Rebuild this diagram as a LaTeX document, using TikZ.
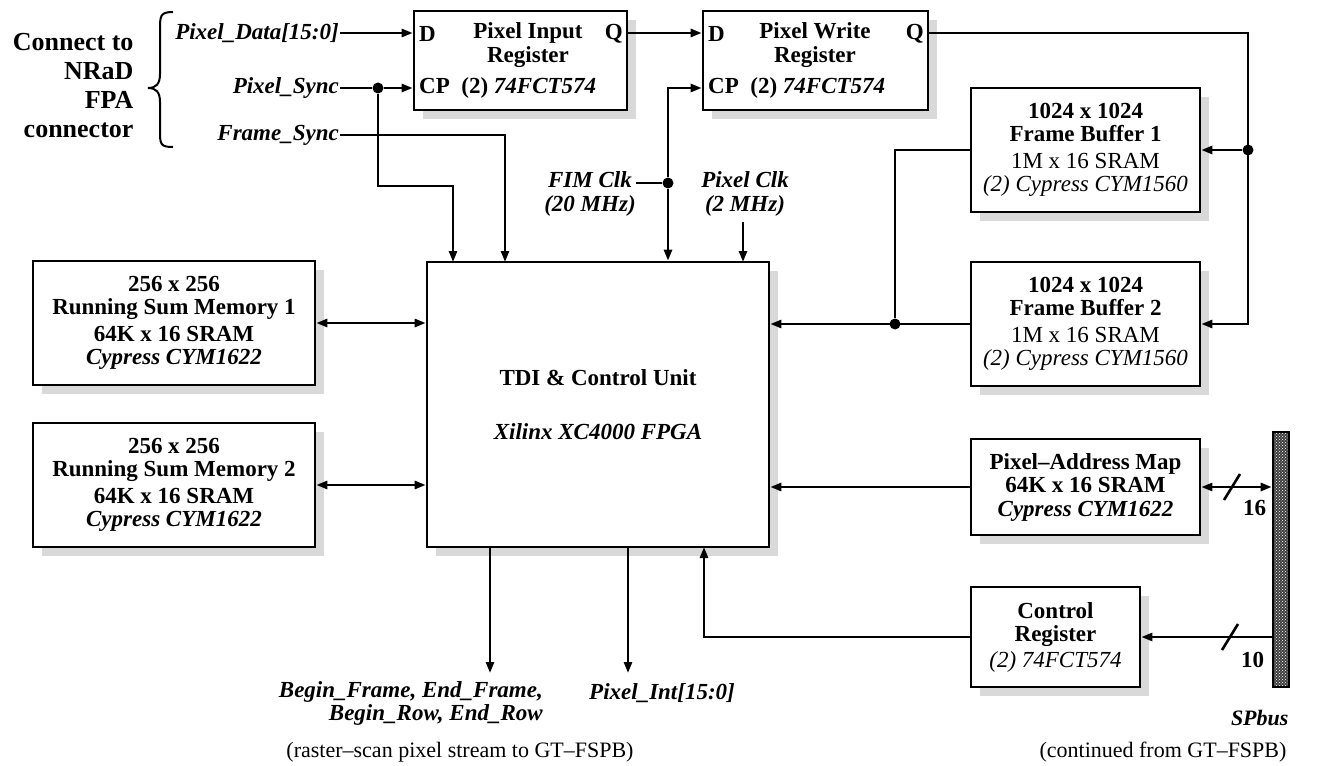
\documentclass[tikz,border=0pt]{standalone}
\usepackage{fontspec}
\setmainfont{Liberation Serif}
\usetikzlibrary{arrows.meta,shadows,patterns}
\newcommand\bxf{\fontsize{23}{23.5}\selectfont}
\newcommand\bigf{\fontsize{26}{29}\selectfont}
\newcommand\capf{\fontsize{22}{24}\selectfont}
\begin{document}
\begin{tikzpicture}[x=1pt,y=-1pt,
  ln/.style={line width=2.6pt},
  arr/.style={ln,-{Triangle[length=11pt,width=8pt]}},
  biarr/.style={ln,{Triangle[length=11pt,width=8pt]}-{Triangle[length=11pt,width=8pt]}},
  box/.style={draw,line width=2.6pt,fill=white,inner sep=2pt,align=center,font=\bxf\bfseries,
    general shadow={fill=black!15,shadow xshift=9pt,shadow yshift=-9pt}},
  jdot/.style={circle,fill,inner sep=0pt,minimum size=11pt},
  lbl/.style={font=\bxf\bfseries\itshape,inner sep=1pt},
  txt/.style={font=\bxf\bfseries,inner sep=1pt},
  busbar/.style={draw,line width=2.6pt,preaction={fill=black!75},pattern=crosshatch dots,pattern color=white,inner sep=0pt}]
\useasboundingbox (0,0) rectangle (1324,765);

% ---------- boxes ----------
\node[box,minimum width=213pt,minimum height=99pt] (pir) at (520.5,60.5) {};
\node[box,minimum width=225pt,minimum height=99pt] (pwr) at (815.5,60.5) {};
\node[box,minimum width=229pt,minimum height=124pt] (fb1) at (1085.5,150)
  {1024 x 1024\\Frame Buffer 1\\[3pt]{\mdseries 1M x 16 SRAM}\\{\mdseries\itshape (2) Cypress CYM1560}};
\node[box,minimum width=229pt,minimum height=124pt] (fb2) at (1085.5,324)
  {1024 x 1024\\Frame Buffer 2\\[3pt]{\mdseries 1M x 16 SRAM}\\{\mdseries\itshape (2) Cypress CYM1560}};
\node[box,minimum width=342pt,minimum height=285pt] (tdi) at (598,404.5)
  {TDI \& Control Unit\\[30pt]\textit{Xilinx XC4000 FPGA}};
\node[box,minimum width=282pt,minimum height=124pt] (rs1) at (174,323)
  {256 x 256\\Running Sum Memory 1\\[3pt]64K x 16 SRAM\\\textit{Cypress CYM1622}};
\node[box,minimum width=282pt,minimum height=124pt] (rs2) at (174,485)
  {256 x 256\\Running Sum Memory 2\\[3pt]64K x 16 SRAM\\\textit{Cypress CYM1622}};
\node[box,minimum width=229pt,minimum height=96pt] (pam) at (1085.5,487)
  {Pixel--Address Map\\64K x 16 SRAM\\\textit{Cypress CYM1622}};
\node[box,minimum width=169pt,minimum height=100pt] (cr) at (1055.5,637)
  {Control\\Register\\[2pt]{\mdseries\itshape (2) 74FCT574}};
\node[busbar,minimum width=16pt,minimum height=255pt] (bus) at (1281,559.5) {};

% ---------- register texts ----------
\node[txt,anchor=west] (pirD) at (418,34) {D};
\node[txt,anchor=east] (pirQ) at (624,34) {Q};
\node[txt,align=center] (pirT) at (528,45) {Pixel Input\\Register};
\node[txt,anchor=west] (pirC) at (418,88) {CP\ \ (2) \textit{74FCT574}};
\node[txt,anchor=west] (pwrD) at (707,34) {D};
\node[txt,anchor=east] (pwrQ) at (925,34) {Q};
\node[txt,align=center] (pwrT) at (815,45) {Pixel Write\\Register};
\node[txt,anchor=west] (pwrC) at (707,88) {CP\ \ (2) \textit{74FCT574}};

% ---------- left labels ----------
\node[font=\bigf\bfseries,align=right,anchor=east] (conn) at (137,86) {Connect to\\NRaD\\FPA\\connector};
\draw[line width=2pt] (173,12) .. controls (160,12) and (160,16) .. (160,30) -- (160,74)
  .. controls (160,84) and (156,88) .. (148,88) .. controls (156,88) and (160,92) .. (160,102)
  -- (160,130) .. controls (160,144) and (160,147) .. (173,147);
\node[lbl,anchor=east] (pdata) at (340,33) {Pixel\_Data[15:0]};
\node[lbl,anchor=east] (psync) at (340,88) {Pixel\_Sync};
\node[lbl,anchor=east] (fsync) at (340,135) {Frame\_Sync};

% ---------- clock labels ----------
\node[lbl,align=center] (fim) at (590,194) {FIM Clk\\(20 MHz)};
\node[lbl,align=center] (pclk) at (745,194) {Pixel Clk\\(2 MHz)};
\coordinate (fimL) at (636,183);
\coordinate (pclkT) at (743,222);

% ---------- junctions ----------
\node[jdot] (d1) at (378,88) {};
\node[jdot] (fimdot) at (668,183) {};
\node[jdot] (qdot) at (1248,150) {};
\node[jdot] (fbj) at (895,324) {};
\coordinate (rowD) at (0,33);
\coordinate (rowC) at (0,88);
\coordinate (tb) at (453,186);
\coordinate (t1) at (453,262);
\coordinate (t2) at (505,262);
\coordinate (t3) at (743,262);
\coordinate (t4) at (704,547);
\coordinate (qd2) at (1248,324);

% ---------- connectors ----------
\draw[arr] (pdata.east) -- (pdata.east -| pir.west);
\draw[ln] (psync.east) -- (d1);
\draw[arr] (d1) -- (d1 -| pir.west);
\draw[arr] (d1) |- (tb) -- (t1);
\draw[arr] (fsync.east) -| (t2);
\draw[arr] (pir.east |- rowD) -- (pwr.west |- rowD);
\draw[ln] (fimL) -- (fimdot);
\draw[arr] (fimdot) |- (pwr.west |- rowC);
\draw[arr] (fimdot) -- (fimdot |- tdi.north);
\draw[arr] (pclkT) -- (t3);
\draw[arr] (pwr.east |- rowD) -| (qd2) -- (fb2.east);
\draw[arr] (qdot) -- (fb1.east);
\draw[ln] (fb1.west) -| (fbj);
\draw[arr] (fb2.west) -- (fb2.west -| tdi.east);
\draw[biarr] (rs1.east) -- (rs1.east -| tdi.west);
\draw[biarr] (rs2.east) -- (rs2.east -| tdi.west);
\draw[arr] (pam.west) -- (pam.west -| tdi.east);
\draw[biarr] (pam.east) -- (pam.east -| bus.west);
\draw[arr] (cr.east -| bus.west) -- (cr.east);
\draw[arr] (cr.west) -| (t4);
\draw[ln] (1224,500) -- (1240,474);
\node[txt,anchor=west] (n16) at (1242,508) {16};
\draw[ln] (1222,650) -- (1238,624);
\node[txt,anchor=west] (n10) at (1240,660) {10};

% ---------- bottom ----------
\coordinate (b1e) at (490,673);
\coordinate (b2e) at (628,673);
\draw[arr] (b1e |- tdi.south) -- (b1e);
\draw[arr] (b2e |- tdi.south) -- (b2e);
\node[lbl,align=right,anchor=north east] (bfl) at (544,680) {Begin\_Frame, End\_Frame,\\Begin\_Row, End\_Row};
\node[lbl,anchor=west] (pint) at (588,693) {Pixel\_Int[15:0]};
\node[font=\capf] (cap1) at (460,752) {(raster--scan pixel stream to GT--FSPB)};
\node[font=\capf\bfseries\itshape,anchor=east] (spl) at (1292,718) {SPbus};
\node[font=\capf] (cap2) at (1163,752) {(continued from GT--FSPB)};
\end{tikzpicture}
\end{document}
